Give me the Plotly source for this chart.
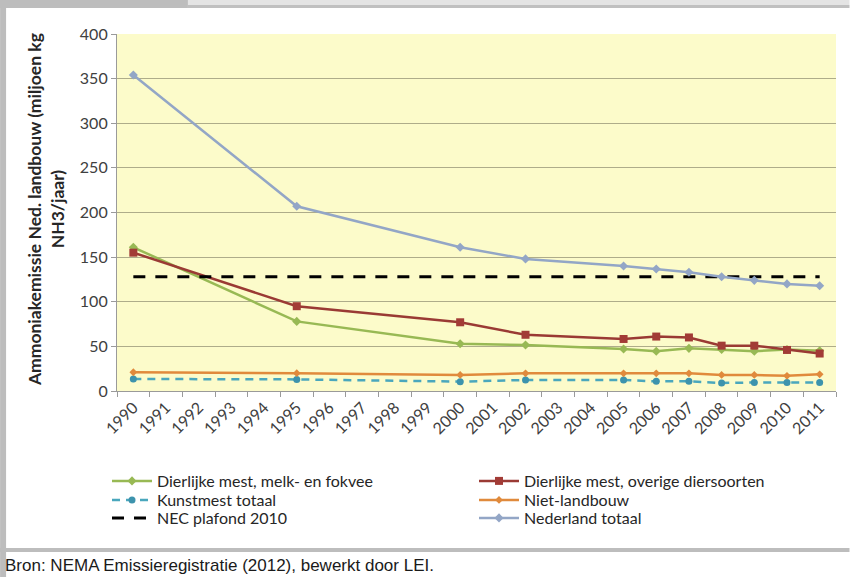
import plotly.graph_objects as go

years_all = [str(y) for y in range(1990, 2012)]
years = ["1990", "1995", "2000", "2002", "2005", "2006", "2007", "2008", "2009", "2010", "2011"]

melk_fokvee = [161, 78, 53, 51.5, 47, 44.5, 47.8, 46.5, 44.5, 46.5, 45]
overige = [155, 95, 77, 63, 58.3, 61, 60, 50.8, 50.8, 46, 42]
kunstmest = [13.5, 13, 10.5, 12.3, 12.3, 10.8, 10.8, 9, 9.5, 9.5, 9.5]
niet_landbouw = [21, 20, 18, 19.8, 19.8, 19.8, 19.8, 18, 18, 17, 18.7]
nec_plafond = [128] * len(years_all)
nl_totaal = [354, 207, 161, 148, 140, 136.7, 133, 128, 124, 120, 118]

W, H = 850, 577
L, R, T, B = 117, 836.5, 34, 391

def px(x):
    return (x - L) / (R - L)

def py(y):
    return (B - y) / (B - T)

FONT = "Lato, Carlito, Calibri, sans-serif"

fig = go.Figure()
fig.add_trace(go.Scatter(x=years, y=melk_fokvee, name="Dierlijke mest, melk- en fokvee",
                         mode="lines+markers", line=dict(color="#98b954", width=2.5),
                         marker=dict(symbol="diamond", size=7, color="#98b954"), legend="legend"))
fig.add_trace(go.Scatter(x=years, y=overige, name="Dierlijke mest, overige diersoorten",
                         mode="lines+markers", line=dict(color="#9a3a34", width=2.5),
                         marker=dict(symbol="square", size=8, color="#a23b36"), legend="legend"))
fig.add_trace(go.Scatter(x=years, y=kunstmest, name="Kunstmest totaal",
                         mode="lines+markers", line=dict(color="#4aa7bd", width=2.5, dash="8px,6px"),
                         marker=dict(symbol="circle", size=7, color="#3d93ad"), legend="legend2"))
fig.add_trace(go.Scatter(x=years, y=niet_landbouw, name="Niet-landbouw",
                         mode="lines+markers", line=dict(color="#e08a3c", width=2.5),
                         marker=dict(symbol="diamond", size=6, color="#e08a3c"), legend="legend2"))
fig.add_trace(go.Scatter(x=years_all, y=nec_plafond, name="NEC plafond 2010",
                         mode="lines", line=dict(color="#000000", width=3, dash="12px,10px"),
                         legend="legend3"))
fig.add_trace(go.Scatter(x=years, y=nl_totaal, name="Nederland totaal",
                         mode="lines+markers", line=dict(color="#93a6c6", width=2.5),
                         marker=dict(symbol="diamond", size=7, color="#93a6c6"), legend="legend3"))

shapes = [
    dict(type="rect", xref="paper", yref="paper", x0=px(0), x1=px(6), y0=py(0), y1=py(577),
         fillcolor="#bdbdbd", line_width=0, layer="above"),
    dict(type="rect", xref="paper", yref="paper", x0=px(0), x1=px(188), y0=py(0), y1=py(8),
         fillcolor="#bdbdbd", line_width=0, layer="above"),
    dict(type="rect", xref="paper", yref="paper", x0=px(188), x1=px(850), y0=py(0), y1=py(5),
         fillcolor="#e4e4e4", line_width=0, layer="above"),
    dict(type="rect", xref="paper", yref="paper", x0=px(188), x1=px(850), y0=py(5), y1=py(8),
         fillcolor="#c0c0c0", line_width=0, layer="above"),
    dict(type="rect", xref="paper", yref="paper", x0=px(0), x1=px(850), y0=py(548), y1=py(552),
         fillcolor="#bdbdbd", line_width=0, layer="above"),
]

def legend_row(ycenter):
    return dict(orientation="h", x=px(107), y=py(ycenter), xanchor="left", yanchor="middle",
                entrywidth=312, entrywidthmode="pixels", itemwidth=40,
                font=dict(family=FONT, size=16, color="#262626"),
                bgcolor="rgba(0,0,0,0)", borderwidth=0)

fig.update_layout(
    width=W, height=H,
    margin=dict(l=L, r=W - R, t=T, b=H - B, autoexpand=False),
    paper_bgcolor="white",
    plot_bgcolor="#fcfbca",
    font=dict(family=FONT, size=16, color="#404040"),
    shapes=shapes,
    showlegend=True,
    legend=legend_row(481),
    legend2=legend_row(500),
    legend3=legend_row(518),
    annotations=[
        dict(text="Bron: NEMA Emissieregistratie (2012), bewerkt door LEI.",
             xref="paper", yref="paper", x=px(3), y=py(565), xanchor="left", yanchor="middle",
             showarrow=False, font=dict(family="Liberation Sans Narrow, Arial Narrow, sans-serif",
                                        size=17, color="#1a1a1a")),
        dict(text="<b>Ammoniakemissie Ned. landbouw (miljoen kg<br>NH3/jaar)</b>",
             xref="paper", yref="paper", x=px(46), y=py(210), xanchor="center", yanchor="middle",
             textangle=-90, showarrow=False,
             font=dict(family=FONT, size=17.5, color="#262626")),
    ],
)

fig.update_xaxes(type="category", categoryorder="array", categoryarray=years_all,
                 tickvals=years_all, ticktext=years_all, tickangle=-45,
                 ticks="outside", tickson="boundaries", ticklen=5, tickcolor="#9a9a9a",
                 showline=True, linecolor="#9a9a9a", linewidth=1.2, showgrid=False,
                 range=[-0.5, 21.5], tickfont=dict(size=16, color="#404040"))
fig.update_yaxes(range=[0, 400], dtick=50, ticks="outside", ticklen=5, tickcolor="#9a9a9a",
                 showline=True, linecolor="#9a9a9a", linewidth=1.2,
                 showgrid=True, gridcolor="#aeac8a", gridwidth=1.3, zeroline=False,
                 tickfont=dict(size=16, color="#404040"))

fig.write_html("out.html", config={"displayModeBar": False},
               post_script="document.body.style.margin='0';document.body.style.padding='0';")
